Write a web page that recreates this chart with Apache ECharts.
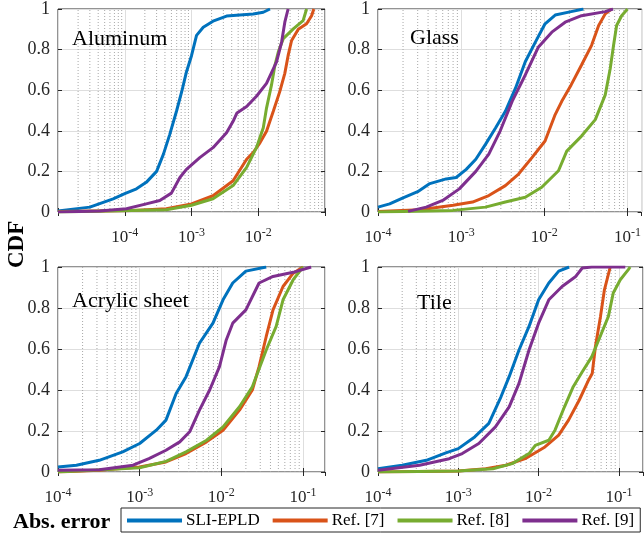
<!DOCTYPE html>
<html>
<head>
<meta charset="utf-8">
<script src="https://cdn.jsdelivr.net/npm/echarts@6/dist/echarts.min.js"></script>
<style>
  html, body { margin: 0; padding: 0; background: #fff; }
  #main { width: 644px; height: 538px; }
</style>
</head>
<body>
<div id="main"></div>
<script>
// CDF curves: [abs. error, CDF]
const aluminumSLI = [[1e-5,0.005],[3e-5,0.024],[6.7e-5,0.065],[1e-4,0.09],[1.5e-4,0.114],[2.1e-4,0.146],[3e-4,0.2],[3.8e-4,0.285],[4.7e-4,0.38],[6e-4,0.5],[7.1e-4,0.59],[8.4e-4,0.69],[1e-3,0.77],[1.19e-3,0.87],[1.5e-3,0.91],[2.1e-3,0.94],[3.35e-3,0.965],[8.4e-3,0.975],[1.19e-2,0.984],[1.5e-2,1]];
const aluminumRef7 = [[1e-5,0.003],[1.33e-4,0.008],[4.2e-4,0.016],[1e-3,0.04],[2.1e-3,0.08],[4.2e-3,0.154],[6.7e-3,0.26],[8.4e-3,0.293],[1.06e-2,0.341],[1.33e-2,0.398],[1.68e-2,0.496],[2.1e-2,0.593],[2.5e-2,0.683],[2.8e-2,0.77],[3.16e-2,0.845],[3.98e-2,0.9],[5.3e-2,0.927],[6.3e-2,0.967],[6.8e-2,1]];
const aluminumRef8 = [[1e-5,0],[4.2e-4,0.011],[1e-3,0.033],[2.1e-3,0.065],[4.2e-3,0.13],[6.7e-3,0.22],[9.4e-3,0.317],[1.19e-2,0.415],[1.33e-2,0.512],[1.58e-2,0.626],[1.78e-2,0.724],[2e-2,0.789],[2.37e-2,0.854],[3.35e-2,0.902],[4.7e-2,0.943],[5.3e-2,1]];
const aluminumRef9 = [[1e-5,0],[4.2e-5,0.005],[1.06e-4,0.016],[2.1e-4,0.04],[3.35e-4,0.057],[5e-4,0.093],[6.7e-4,0.17],[8.4e-4,0.21],[1.33e-3,0.268],[2.1e-3,0.317],[3.35e-3,0.39],[4.2e-3,0.447],[4.8e-3,0.488],[6.7e-3,0.52],[9.4e-3,0.57],[1.33e-2,0.634],[1.88e-2,0.74],[2.24e-2,0.837],[2.5e-2,0.935],[2.8e-2,1]];

const glassSLI = [[1e-4,0.024],[1.38e-4,0.04],[2e-4,0.07],[3e-4,0.1],[4.2e-4,0.14],[6.6e-4,0.163],[8.7e-4,0.17],[1.15e-3,0.21],[1.5e-3,0.26],[1.96e-3,0.333],[2.6e-3,0.415],[3.4e-3,0.496],[4.5e-3,0.61],[5.9e-3,0.74],[7.8e-3,0.837],[1.02e-2,0.927],[1.35e-2,0.97],[2.1e-2,0.987],[2.95e-2,1]];
const glassRef7 = [[1e-4,0.003],[3.2e-4,0.011],[8e-4,0.033],[1.37e-3,0.049],[2.15e-3,0.081],[3.4e-3,0.13],[4.9e-3,0.187],[7.1e-3,0.268],[1.02e-2,0.35],[1.35e-2,0.48],[1.62e-2,0.545],[2.1e-2,0.626],[2.8e-2,0.724],[3.7e-2,0.821],[4.5e-2,0.919],[5.4e-2,0.976],[6.4e-2,1]];
const glassRef8 = [[1e-4,0],[8e-4,0.008],[1.96e-3,0.024],[3.4e-3,0.049],[5.9e-3,0.073],[9.3e-3,0.122],[1.48e-2,0.203],[1.86e-2,0.3],[2.8e-2,0.374],[4.1e-2,0.455],[5.4e-2,0.577],[6.2e-2,0.707],[6.8e-2,0.821],[7.4e-2,0.919],[8.5e-2,0.967],[0.1,1]];
const glassRef9 = [[2.3e-4,0.003],[3.8e-4,0.024],[6e-4,0.057],[9.5e-4,0.114],[1.5e-3,0.2],[2.15e-3,0.285],[2.95e-3,0.4],[4.1e-3,0.545],[5.9e-3,0.675],[8.5e-3,0.813],[1.23e-2,0.886],[1.78e-2,0.935],[2.8e-2,0.967],[5.4e-2,0.987],[6.7e-2,1]];

const acrylicSLI = [[1e-4,0.024],[1.68e-4,0.033],[3.2e-4,0.057],[6.2e-4,0.098],[1e-3,0.139],[1.6e-3,0.204],[2.1e-3,0.253],[2.8e-3,0.383],[3.7e-3,0.465],[5.4e-3,0.628],[7.9e-3,0.726],[1.05e-2,0.84],[1.38e-2,0.922],[2e-2,0.98],[3.55e-2,1]];
const acrylicRef7 = [[1e-4,0],[3.2e-4,0.008],[1e-3,0.024],[2.1e-3,0.049],[3.7e-3,0.09],[6.6e-3,0.147],[1.05e-2,0.204],[1.67e-2,0.302],[2.4e-2,0.4],[2.9e-2,0.514],[3.55e-2,0.661],[4.3e-2,0.791],[5.7e-2,0.905],[7.6e-2,0.97],[0.1,1]];
const acrylicRef8 = [[1e-4,0],[1e-3,0.021],[2.1e-3,0.052],[3.7e-3,0.098],[6.6e-3,0.155],[1.05e-2,0.22],[1.67e-2,0.318],[2.4e-2,0.416],[3.55e-2,0.595],[4.7e-2,0.71],[5.7e-2,0.84],[7.6e-2,0.938],[0.1,1]];
const acrylicRef9 = [[1e-4,0.008],[3.2e-4,0.011],[8.3e-4,0.033],[1.3e-3,0.065],[2.1e-3,0.106],[3.1e-3,0.147],[4.1e-3,0.196],[5.4e-3,0.302],[7.2e-3,0.4],[9.5e-3,0.514],[1.15e-2,0.644],[1.38e-2,0.726],[2e-2,0.791],[2.9e-2,0.922],[4.3e-2,0.954],[7.6e-2,0.974],[0.126,1]];

const tileSLI = [[1e-4,0.016],[2e-4,0.033],[4e-4,0.057],[7e-4,0.093],[1e-3,0.114],[1.6e-3,0.171],[2.4e-3,0.237],[3.4e-3,0.367],[4.3e-3,0.465],[5.7e-3,0.595],[7.6e-3,0.71],[1e-2,0.84],[1.34e-2,0.922],[1.78e-2,0.98],[2.4e-2,1]];
const tileRef7 = [[1e-4,0],[1e-3,0.005],[2.2e-3,0.016],[3.9e-3,0.033],[6.8e-3,0.065],[1.2e-2,0.122],[1.78e-2,0.18],[2.36e-2,0.253],[3.2e-2,0.35],[4.2e-2,0.449],[4.65e-2,0.48],[5.1e-2,0.612],[5.9e-2,0.759],[6.6e-2,0.889],[7.8e-2,1]];
const tileRef8 = [[1e-4,0],[1e-3,0.005],[2.7e-3,0.016],[4.7e-3,0.041],[7.6e-3,0.09],[9.1e-3,0.13],[1.34e-2,0.155],[1.6e-2,0.204],[2.1e-2,0.318],[2.7e-2,0.416],[3.5e-2,0.489],[4.6e-2,0.563],[5.6e-2,0.644],[7.4e-2,0.759],[8.5e-2,0.873],[0.104,0.938],[0.131,0.987],[0.138,1]];
const tileRef9 = [[1e-4,0.008],[3.3e-4,0.033],[7.7e-4,0.065],[1.12e-3,0.09],[1.8e-3,0.139],[2.9e-3,0.22],[4.3e-3,0.318],[5.7e-3,0.432],[7.6e-3,0.595],[1e-2,0.726],[1.34e-2,0.84],[1.96e-2,0.905],[2.9e-2,0.954],[3.5e-2,0.995],[4.6e-2,1],[0.12,1]];

const seriesNames = ['SLI-EPLD', 'Ref. [7]', 'Ref. [8]', 'Ref. [9]'];
const seriesColors = ['#0072BD', '#D95319', '#77AC30', '#7E2F8E'];
const panelTitles = ['Aluminum', 'Glass', 'Acrylic sheet', 'Tile'];
const yTicks = [0, 0.2, 0.4, 0.6, 0.8, 1];
const minorSteps = [2, 3, 4, 5, 6, 7, 8, 9];

const serif = 'Liberation Serif';
const ink = '#262626';

// panel layout: position + x range
const panels = [
  { name: panelTitles[0], data: [aluminumSLI, aluminumRef7, aluminumRef8, aluminumRef9],
    left: 58, top: 7, width: 267, xmin: 1e-5, xmax: 1e-1, hideEnds: true, titleX: 72, titleY: 28 },
  { name: panelTitles[1], data: [glassSLI, glassRef7, glassRef8, glassRef9],
    left: 378, top: 7, width: 265, xmin: 1e-4, xmax: Math.pow(10, -0.83), hideEnds: false, titleX: 410, titleY: 27 },
  { name: panelTitles[2], data: [acrylicSLI, acrylicRef7, acrylicRef8, acrylicRef9],
    left: 58, top: 267, width: 267, xmin: 1e-4, xmax: Math.pow(10, -0.73), hideEnds: false, titleX: 72, titleY: 290 },
  { name: panelTitles[3], data: [tileSLI, tileRef7, tileRef8, tileRef9],
    left: 378, top: 267, width: 265, xmin: 1e-4, xmax: Math.pow(10, -0.70), hideEnds: false, titleX: 417, titleY: 292 }
];
const panelHeight = 205;

// "10^k" labels, only at whole decades
function labelFor(p) {
  return function (v) {
    const e = Math.log10(v);
    if (Math.abs(e - Math.round(e)) > 1e-6) return '';
    if (p.hideEnds && (v <= p.xmin * 1.001 || v >= p.xmax * 0.999)) return '';
    return '10{s|' + Math.round(e) + '}';
  };
}

// dotted minor grid lines at 2..9 x 10^k, as broken line segments
function minorLines(min, max) {
  const out = [];
  for (let d = Math.floor(Math.log10(min)); d <= Math.ceil(Math.log10(max)); d++) {
    minorSteps.forEach(m => {
      const v = m * Math.pow(10, d);
      if (v > min * 1.001 && v < max * 0.999) {
        out.push([v, yTicks[0]], [v, yTicks[yTicks.length - 1]], [v, null]);
      }
    });
  }
  return out;
}

const grid = [], xAxis = [], yAxis = [], series = [], title = [];

panels.forEach((p, i) => {
  grid.push({ left: p.left, top: p.top, width: p.width, height: panelHeight,
    show: true, borderColor: ink, borderWidth: 1, backgroundColor: 'transparent' });

  // bottom axis with labels
  xAxis.push({
    type: 'log', gridIndex: i, min: p.xmin, max: p.xmax, position: 'bottom',
    axisLine: { show: false },
    axisTick: { show: true, inside: true, length: 4, lineStyle: { color: ink } },
    axisLabel: { formatter: labelFor(p), showMaxLabel: false,
      fontFamily: serif, fontSize: 17, color: ink, margin: 15,
      rich: { s: { fontFamily: serif, fontSize: 12, color: ink, padding: [0, 0, 10, 0] } } },
    splitLine: { show: true, lineStyle: { color: '#dedede', width: 1 } }
  });
  // top axis, ticks only
  xAxis.push({
    type: 'log', gridIndex: i, min: p.xmin, max: p.xmax, position: 'top',
    axisLine: { show: false }, axisLabel: { show: false }, splitLine: { show: false },
    axisTick: { show: true, inside: true, length: 4, lineStyle: { color: ink } }
  });

  yAxis.push({
    type: 'value', gridIndex: i, min: yTicks[0], max: yTicks[yTicks.length - 1], interval: 0.2,
    axisLine: { show: false },
    axisTick: { show: true, inside: true, length: 4, lineStyle: { color: ink } },
    axisLabel: { fontFamily: serif, fontSize: 18, color: ink, margin: 8 },
    splitLine: { show: true, lineStyle: { color: '#dedede', width: 1 } }
  });
  yAxis.push({
    type: 'value', gridIndex: i, min: yTicks[0], max: yTicks[yTicks.length - 1], interval: 0.2,
    position: 'right', axisLine: { show: false }, axisLabel: { show: false }, splitLine: { show: false },
    axisTick: { show: true, inside: true, length: 4, lineStyle: { color: ink } }
  });

  series.push({
    name: 'minor' + i, type: 'line', xAxisIndex: i * 2, yAxisIndex: i * 2,
    data: minorLines(p.xmin, p.xmax), showSymbol: false, symbol: 'none', silent: true,
    connectNulls: false, lineStyle: { color: '#a8a8a8', width: 1, type: [1, 2] }, z: 1
  });

  p.data.forEach((d, k) => {
    series.push({
      name: seriesNames[k], type: 'line', xAxisIndex: i * 2, yAxisIndex: i * 2,
      data: d, showSymbol: false, symbol: 'none', clip: true, z: 3,
      lineStyle: { color: seriesColors[k], width: 3 },
      itemStyle: { color: seriesColors[k] }
    });
  });

  title.push({ text: p.name, left: p.titleX, top: p.titleY, padding: 0,
    textStyle: { fontFamily: serif, fontSize: 22, fontWeight: 'normal', color: '#000' } });
});

var myChart = echarts.init(document.getElementById('main'));
myChart.setOption({
  animation: false,
  backgroundColor: '#fff',
  title: title,
  grid: grid,
  xAxis: xAxis,
  yAxis: yAxis,
  series: series,
  legend: {
    data: seriesNames, left: 121, top: 508, width: 540,
    icon: 'rect', itemWidth: 55, itemHeight: 4, itemGap: 13,
    borderColor: ink, borderWidth: 1, padding: [4, 6, 3, 6],
    textStyle: { fontFamily: serif, fontSize: 17, color: '#000', padding: [0, 0, 0, -1] }
  },
  graphic: [
    { type: 'text', x: 6, y: 268, rotation: Math.PI / 2,
      style: { text: 'CDF', font: 'bold 23px "Liberation Serif"', fill: '#000' } },
    { type: 'text', x: 13, y: 511,
      style: { text: 'Abs. error', font: 'bold 22px "Liberation Serif"', fill: '#000' } }
  ]
});
</script>
</body>
</html>
